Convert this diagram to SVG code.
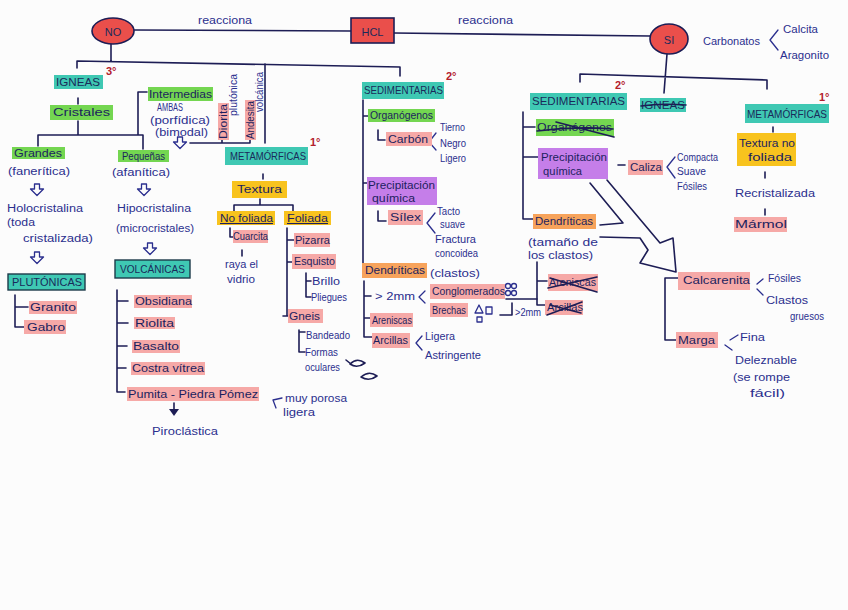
<svg xmlns="http://www.w3.org/2000/svg" width="848" height="610" viewBox="0 0 848 610">
<style>
text{font-family:"Liberation Sans",Arial,sans-serif;}
.t{font-size:10px;fill:#2b2f8e;}
.b{font-size:10.5px;fill:#1c1f5e;}
.h{font-size:11px;fill:#1a2a5a;}
.n{font-size:11px;fill:#b3202c;font-weight:bold;}
.ln{stroke:#1d1d55;stroke-width:1.6;fill:none;stroke-linecap:round;stroke-linejoin:round;}
.ink{stroke:#2b2f8e;stroke-width:1.3;fill:none;stroke-linecap:round;stroke-linejoin:round;}
.teal{fill:#3fc8b3;}
.green{fill:#74d651;}
.pink{fill:#f6a9a7;}
.orange{fill:#f7a35b;}
.purple{fill:#c57ee9;}
.yellow{fill:#f8c31e;}
.red{fill:#ea4f4b;stroke:#1d1d55;stroke-width:1.6;}
.bord{stroke:#1d3b4a;stroke-width:1.4;}
.u{text-decoration:underline;}
</style>
<defs>
<path id="hdown" d="M-2.5,0 v5 h-4 l6.5,6.5 l6.5,-6.5 h-4 v-5 z" class="ink"/>
</defs>
<rect width="848" height="610" fill="#fcfcfc"/>

<g id="connectors">
<line class="ln" x1="134" y1="30" x2="351" y2="31"/>
<line class="ln" x1="394" y1="33" x2="650" y2="36"/>
<path class="ln" d="M111,44 V61 M77,68 V61 L400,67 V76"/>
<path class="ln" d="M265,64 V143"/>
<path class="ln" d="M78,98 V104 M78,121 V135 M38,146 V135 H143 V149 M147,92 H138 V135"/>
<path class="ln" d="M190,143 H250 M222,143 V139 M250,143 V139"/>
<path class="ln" d="M15,295 V327 H24 M15,307 H28"/>
<path class="ln" d="M117,290 V392 H125 M117,301 H128 M117,323 H128 M117,346 H127 M117,368 H126"/>
<path class="ln" d="M174,403 V412"/>
<path d="M169,409 L174,416 L179,409 Z" fill="#1d1d55"/>
<path class="ink" d="M282,398 L273,400 L276,408"/>
<path class="ln" d="M263,174 V179 M260,199 V205 M234,212 V205 H293 V212"/>
<path class="ln" d="M230,228 V237 H233 M242,250 V256"/>
<path class="ln" d="M287,228 V316 H290 M283,316 H287 M287,240 H294 M287,262 H292"/>
<path class="ln" d="M306,273 V297 H311 M306,281 H311"/>
<path class="ln" d="M299,330 V352 H305 M299,332 H305"/>
<path class="ln" d="M363,100 V271 H366 M363,116 H369 M363,183 H367"/>
<path class="ln" d="M378,130 V140 H385 M378,211 V221 H386"/>
<path class="ink" d="M436,133 L429,142 L436,150 M435,213 L427,223 L435,233"/>
<path class="ln" d="M364,281 V337 H372 M364,296 H371 M364,318 H370"/>
<path class="ink" d="M425,291 L419,297 L425,303 M422,336 L416,343 L422,350"/>
<path class="ln" d="M506,299 H537 M500,315 H512 V303"/>
<path class="ln" d="M667,54 L664,93 M580,82 V74 L767,80 V89"/>
<path class="ink" d="M778,30 L770,40 L778,50"/>
<path class="ln" d="M773,127 V132 M765,172 V178 M765,209 V215"/>
<path class="ln" d="M523,112 V219 H533 M523,127 H535 M523,157 H538"/>
<path class="ln" d="M618,165 H625"/>
<path class="ink" d="M675,157 L667,167 L675,178"/>
<path class="ln" d="M537,262 V305 H546 M537,281 H547"/>
<path class="ln" d="M590,183 L623,223 L600,225"/>
<path class="ln" d="M607,180 L660,243 L673,238 L676,272 L640,263 L648,250 L640,238 L600,237"/>
<path class="ln" d="M678,278 H665 V340 H676"/>
<path class="ink" d="M763,279 L757,284 M757,289 L763,295 M730,340 L738,335 M725,345 L732,350"/>
</g>

<g id="node-no">
<ellipse class="red" cx="113" cy="31" rx="21" ry="13"/>
<text class="h" x="113" y="35.5" text-anchor="middle" font-size="12">NO</text>
</g>
<g id="label-reacciona-1"><text class="t" x="198" y="24" textLength="54" lengthAdjust="spacingAndGlyphs">reacciona</text></g>
<g id="node-hcl">
<rect class="red" x="351" y="18" width="43" height="25"/>
<text class="h" x="372.5" y="36" text-anchor="middle" font-size="15">HCL</text>
</g>
<g id="label-reacciona-2"><text class="t" x="458" y="24" textLength="55" lengthAdjust="spacingAndGlyphs">reacciona</text></g>
<g id="node-si">
<ellipse class="red" cx="669" cy="39" rx="19" ry="15"/>
<text class="h" x="669" y="44" text-anchor="middle" font-size="13">SI</text>
</g>
<g id="node-carbonatos">
<text class="t" x="703" y="45" textLength="57" lengthAdjust="spacingAndGlyphs">Carbonatos</text>
<text class="t" x="783" y="33" textLength="35" lengthAdjust="spacingAndGlyphs">Calcita</text>
<text class="t" x="780" y="59" textLength="49" lengthAdjust="spacingAndGlyphs">Aragonito</text>
</g>

<g id="node-igneas">
<rect class="teal" x="54" y="75" width="49" height="14"/>
<text class="h" x="56" y="86" textLength="44" lengthAdjust="spacingAndGlyphs">IGNEAS</text>
<text class="n" x="106" y="75">3°</text>
</g>
<g id="node-cristales">
<rect class="green" x="50" y="105" width="63" height="15"/>
<text class="b" x="53" y="116" textLength="57" lengthAdjust="spacingAndGlyphs">Cristales</text>
</g>
<g id="node-grandes">
<rect class="green" x="12" y="147" width="53" height="12"/>
<text class="b" x="14" y="157" textLength="48" lengthAdjust="spacingAndGlyphs">Grandes</text>
<text class="t" x="8" y="175" textLength="62" lengthAdjust="spacingAndGlyphs">(fanerítica)</text>
<use href="#hdown" x="37" y="184"/>
<text class="t" x="7" y="212" textLength="76" lengthAdjust="spacingAndGlyphs">Holocristalina</text>
<text class="t" x="7" y="226" textLength="28" lengthAdjust="spacingAndGlyphs">(toda</text>
<text class="t" x="23" y="242" textLength="70" lengthAdjust="spacingAndGlyphs">cristalizada)</text>
<use href="#hdown" x="37" y="252"/>
</g>
<g id="node-plutonicas">
<rect class="teal bord" x="8" y="274" width="77" height="16"/>
<text class="h" x="12" y="286" textLength="70" lengthAdjust="spacingAndGlyphs">PLUTÓNICAS</text>
</g>
<g id="node-granito"><rect class="pink" x="29" y="301" width="48" height="13"/><text class="b" x="30" y="311" textLength="46" lengthAdjust="spacingAndGlyphs">Granito</text></g>
<g id="node-gabro"><rect class="pink" x="24" y="320" width="42" height="14"/><text class="b" x="27" y="331" textLength="38" lengthAdjust="spacingAndGlyphs">Gabro</text></g>

<g id="node-pequenas">
<rect class="green" x="118" y="150" width="51" height="12"/>
<text class="b" x="122" y="160" textLength="43" lengthAdjust="spacingAndGlyphs">Pequeñas</text>
<text class="t" x="112" y="176" textLength="58" lengthAdjust="spacingAndGlyphs">(afanítica)</text>
<use href="#hdown" x="144" y="184"/>
<text class="t" x="117" y="212" textLength="74" lengthAdjust="spacingAndGlyphs">Hipocristalina</text>
<text class="t" x="116" y="232" textLength="78" lengthAdjust="spacingAndGlyphs">(microcristales)</text>
<use href="#hdown" x="150" y="243"/>
</g>
<g id="node-volcanicas">
<rect class="teal bord" x="115" y="260" width="75" height="18"/>
<text class="h" x="120" y="273" textLength="65" lengthAdjust="spacingAndGlyphs">VOLCÁNICAS</text>
</g>
<g id="node-obsidiana"><rect class="pink" x="134" y="295" width="58" height="13"/><text class="b" x="135" y="305" textLength="57" lengthAdjust="spacingAndGlyphs">Obsidiana</text></g>
<g id="node-riolita"><rect class="pink" x="134" y="317" width="41" height="12"/><text class="b" x="135" y="327" textLength="39" lengthAdjust="spacingAndGlyphs">Riolita</text></g>
<g id="node-basalto"><rect class="pink" x="132" y="340" width="48" height="13"/><text class="b" x="133" y="350" textLength="46" lengthAdjust="spacingAndGlyphs">Basalto</text></g>
<g id="node-costra"><rect class="pink" x="131" y="362" width="74" height="13"/><text class="b" x="132" y="372" textLength="72" lengthAdjust="spacingAndGlyphs">Costra vítrea</text></g>
<g id="node-pumita">
<rect class="pink" x="127" y="387" width="132" height="14"/>
<text class="b" x="128" y="398" textLength="130" lengthAdjust="spacingAndGlyphs">Pumita - Piedra Pómez</text>
<text class="t" x="285" y="402" textLength="62" lengthAdjust="spacingAndGlyphs">muy porosa</text>
<text class="t" x="283" y="416" textLength="32" lengthAdjust="spacingAndGlyphs">ligera</text>
</g>
<g id="node-piroclastica"><text class="t" x="152" y="435" textLength="66" lengthAdjust="spacingAndGlyphs">Piroclástica</text></g>

<g id="node-intermedias">
<rect class="green" x="148" y="87" width="65" height="14"/>
<text class="b" x="149" y="98" textLength="63" lengthAdjust="spacingAndGlyphs">Intermedias</text>
<text class="t" x="157" y="111" textLength="26" lengthAdjust="spacingAndGlyphs">AMBAS</text>
<text class="t" x="150" y="124" textLength="60" lengthAdjust="spacingAndGlyphs">(porfídica)</text>
<text class="t" x="155" y="136" textLength="53" lengthAdjust="spacingAndGlyphs">(bimodal)</text>
<use href="#hdown" x="180" y="137"/>
</g>
<g id="node-diorita">
<rect class="pink" x="218" y="103" width="11" height="37"/>
<text class="b" x="223.5" y="125" text-anchor="middle" transform="rotate(-90 223.5 121.5)" textLength="35" lengthAdjust="spacingAndGlyphs">Diorita</text>
<text class="t" x="233" y="98.5" text-anchor="middle" transform="rotate(-90 233 95)" textLength="42" lengthAdjust="spacingAndGlyphs">plutónica</text>
</g>
<g id="node-andesita">
<rect class="pink" x="245" y="100" width="11" height="40"/>
<text class="b" x="250.5" y="123.5" text-anchor="middle" transform="rotate(-90 250.5 120)" textLength="38" lengthAdjust="spacingAndGlyphs">Andesita</text>
<text class="t" x="259" y="95.5" text-anchor="middle" transform="rotate(-90 259 92)" textLength="40" lengthAdjust="spacingAndGlyphs">volcánica</text>
</g>

<g id="node-metamorficas-l">
<rect class="teal" x="225" y="147" width="83" height="18"/>
<text class="h" x="230" y="160" textLength="76" lengthAdjust="spacingAndGlyphs">METAMÓRFICAS</text>
<text class="n" x="310" y="146">1°</text>
</g>
<g id="node-textura"><rect class="yellow" x="232" y="181" width="55" height="17"/><text class="b" x="237" y="193" textLength="45" lengthAdjust="spacingAndGlyphs">Textura</text></g>
<g id="node-nofoliada"><rect class="yellow" x="217" y="211" width="58" height="14"/><text class="b u" x="220" y="222" textLength="53" lengthAdjust="spacingAndGlyphs">No foliada</text></g>
<g id="node-foliada"><rect class="yellow" x="284" y="211" width="47" height="14"/><text class="b u" x="287" y="222" textLength="41" lengthAdjust="spacingAndGlyphs">Foliada</text></g>
<g id="node-cuarcita">
<rect class="pink" x="233" y="230" width="35" height="13"/>
<text class="b" x="233" y="240" textLength="35" lengthAdjust="spacingAndGlyphs">Cuarcita</text>
<text class="t" x="225" y="268" textLength="33" lengthAdjust="spacingAndGlyphs">raya el</text>
<text class="t" x="227" y="283" textLength="28" lengthAdjust="spacingAndGlyphs">vidrio</text>
</g>
<g id="node-pizarra"><rect class="pink" x="294" y="233" width="36" height="14"/><text class="b" x="295" y="244" textLength="35" lengthAdjust="spacingAndGlyphs">Pizarra</text></g>
<g id="node-esquisto">
<rect class="pink" x="292" y="254" width="44" height="15"/>
<text class="b" x="294" y="265" textLength="41" lengthAdjust="spacingAndGlyphs">Esquisto</text>
<text class="t" x="312" y="285" textLength="28" lengthAdjust="spacingAndGlyphs">Brillo</text>
<text class="t" x="311" y="301" textLength="36" lengthAdjust="spacingAndGlyphs">Pliegues</text>
</g>
<g id="node-gneis">
<rect class="pink" x="288" y="309" width="35" height="14"/>
<text class="b" x="289" y="320" textLength="31" lengthAdjust="spacingAndGlyphs">Gneis</text>
<text class="t" x="306" y="339" textLength="44" lengthAdjust="spacingAndGlyphs">Bandeado</text>
<text class="t" x="305" y="356" textLength="33" lengthAdjust="spacingAndGlyphs">Formas</text>
<text class="t" x="305" y="371" textLength="35" lengthAdjust="spacingAndGlyphs">oculares</text>
<path class="ln" d="M350,364 Q357,357 365,363 Q357,369 350,364 Z M346,360 L351,364 M361,377 Q369,370 377,376 Q369,382 361,377 Z"/>
</g>

<g id="node-sedimentarias-m">
<rect class="teal" x="362" y="82" width="82" height="17"/>
<text class="h" x="364" y="94" textLength="79" lengthAdjust="spacingAndGlyphs">SEDIMENTARIAS</text>
<text class="n" x="446" y="80">2°</text>
</g>
<g id="node-organogenos-m"><rect class="green" x="368" y="109" width="67" height="13"/><text class="b" x="370" y="119" textLength="63" lengthAdjust="spacingAndGlyphs">Organógenos</text></g>
<g id="node-carbon">
<rect class="pink" x="386" y="132" width="46" height="14"/>
<text class="b" x="388" y="143" textLength="40" lengthAdjust="spacingAndGlyphs">Carbón</text>
<text class="t" x="440" y="131" textLength="25" lengthAdjust="spacingAndGlyphs">Tierno</text>
<text class="t" x="440" y="147" textLength="26" lengthAdjust="spacingAndGlyphs">Negro</text>
<text class="t" x="440" y="162" textLength="26" lengthAdjust="spacingAndGlyphs">Ligero</text>
</g>
<g id="node-precip-m">
<rect class="purple" x="367" y="177" width="70" height="28"/>
<text class="b" x="368" y="189" textLength="67" lengthAdjust="spacingAndGlyphs">Precipitación</text>
<text class="b" x="372" y="202" textLength="43" lengthAdjust="spacingAndGlyphs">química</text>
</g>
<g id="node-silex">
<rect class="pink" x="388" y="210" width="35" height="15"/>
<text class="b" x="390" y="221" textLength="31" lengthAdjust="spacingAndGlyphs">Sílex</text>
<text class="t" x="437" y="215" textLength="23" lengthAdjust="spacingAndGlyphs">Tacto</text>
<text class="t" x="440" y="228" textLength="25" lengthAdjust="spacingAndGlyphs">suave</text>
<text class="t" x="435" y="243" textLength="41" lengthAdjust="spacingAndGlyphs">Fractura</text>
<text class="t" x="435" y="257" textLength="43" lengthAdjust="spacingAndGlyphs">concoidea</text>
</g>
<g id="node-dendriticas-m">
<rect class="orange" x="362" y="263" width="65" height="15"/>
<text class="b" x="365" y="274" textLength="60" lengthAdjust="spacingAndGlyphs">Dendríticas</text>
<text class="t" x="430" y="277" textLength="50" lengthAdjust="spacingAndGlyphs">(clastos)</text>
<text class="t" x="375" y="300" textLength="40" lengthAdjust="spacingAndGlyphs">&gt; 2mm</text>
</g>
<g id="node-conglomerados">
<rect class="pink" x="430" y="284" width="75" height="15"/>
<text class="b" x="432" y="295" textLength="73" lengthAdjust="spacingAndGlyphs">Conglomerados</text>
<g class="ink"><circle cx="508" cy="286" r="2.5"/><circle cx="514" cy="286" r="2.5"/><circle cx="508" cy="293" r="2.5"/><circle cx="514" cy="293" r="2.5"/></g>
</g>
<g id="node-brechas">
<rect class="pink" x="430" y="303" width="38" height="14"/>
<text class="b" x="432" y="314" textLength="34" lengthAdjust="spacingAndGlyphs">Brechas</text>
<path class="ink" d="M475,313 L479,305 L483,313 Z M486,307 H492 V314 H486 Z M477,317 H482 V322 H477 Z"/>
<text class="t" x="515" y="316" textLength="26" lengthAdjust="spacingAndGlyphs">&gt;2mm</text>
</g>
<g id="node-areniscas-m"><rect class="pink" x="370" y="313" width="43" height="14"/><text class="b" x="372" y="324" textLength="40" lengthAdjust="spacingAndGlyphs">Areniscas</text></g>
<g id="node-arcillas-m">
<rect class="pink" x="372" y="333" width="38" height="15"/>
<text class="b" x="373" y="344" textLength="35" lengthAdjust="spacingAndGlyphs">Arcillas</text>
<text class="t" x="425" y="340" textLength="30" lengthAdjust="spacingAndGlyphs">Ligera</text>
<text class="t" x="425" y="359" textLength="56" lengthAdjust="spacingAndGlyphs">Astringente</text>
</g>

<g id="node-sedimentarias-r">
<rect class="teal" x="530" y="93" width="97" height="17"/>
<text class="h" x="532" y="105" textLength="93" lengthAdjust="spacingAndGlyphs">SEDIMENTARIAS</text>
<text class="n" x="615" y="89">2°</text>
</g>
<g id="node-igneas-r">
<rect class="teal" x="640" y="98" width="46" height="14"/>
<text class="h" x="641" y="109" textLength="44" lengthAdjust="spacingAndGlyphs">IGNEAS</text>
<path class="ln" d="M641,106 Q660,103 686,105"/>
</g>
<g id="node-metamorficas-r">
<rect class="teal" x="745" y="104" width="84" height="19"/>
<text class="h" x="747" y="118" textLength="80" lengthAdjust="spacingAndGlyphs">METAMÓRFICAS</text>
<text class="n" x="819" y="101">1°</text>
</g>
<g id="node-textura-nf"><rect class="yellow" x="737" y="133" width="59" height="33"/>
<text class="b" x="739" y="147" textLength="56" lengthAdjust="spacingAndGlyphs">Textura no</text>
<text class="b" x="748" y="161" textLength="44" lengthAdjust="spacingAndGlyphs">foliada</text></g>
<g id="node-recristalizada"><text class="t" x="735" y="197" textLength="80" lengthAdjust="spacingAndGlyphs">Recristalizada</text></g>
<g id="node-marmol"><rect class="pink" x="734" y="217" width="53" height="15"/><text class="b" x="735" y="228" textLength="52" lengthAdjust="spacingAndGlyphs">Mármol</text></g>

<g id="node-organogenos-r">
<rect class="green" x="536" y="119" width="78" height="17"/>
<text class="b" x="537" y="131" textLength="75" lengthAdjust="spacingAndGlyphs">Organógenos</text>
<path class="ln" d="M537,131 Q575,126 613,129 M556,122 L614,137"/>
</g>
<g id="node-precip-r">
<rect class="purple" x="538" y="148" width="70" height="31"/>
<text class="b" x="541" y="161" textLength="66" lengthAdjust="spacingAndGlyphs">Precipitación</text>
<text class="b" x="543" y="175" textLength="39" lengthAdjust="spacingAndGlyphs">química</text>
</g>
<g id="node-caliza">
<rect class="pink" x="628" y="160" width="35" height="15"/>
<text class="b" x="630" y="171" textLength="32" lengthAdjust="spacingAndGlyphs">Caliza</text>
<text class="t" x="677" y="161" textLength="41" lengthAdjust="spacingAndGlyphs">Compacta</text>
<text class="t" x="677" y="175" textLength="29" lengthAdjust="spacingAndGlyphs">Suave</text>
<text class="t" x="677" y="190" textLength="30" lengthAdjust="spacingAndGlyphs">Fósiles</text>
</g>
<g id="node-dendriticas-r">
<rect class="orange" x="533" y="214" width="63" height="15"/>
<text class="b" x="535" y="225" textLength="58" lengthAdjust="spacingAndGlyphs">Dendríticas</text>
<text class="t" x="528" y="246" textLength="70" lengthAdjust="spacingAndGlyphs">(tamaño de</text>
<text class="t" x="528" y="259" textLength="65" lengthAdjust="spacingAndGlyphs">los clastos)</text>
</g>
<g id="node-areniscas-r">
<rect class="pink" x="548" y="274" width="50" height="17"/>
<text class="b" x="549" y="286" textLength="47" lengthAdjust="spacingAndGlyphs">Areniscas</text>
<path class="ln" d="M550,278 L597,292 M548,288 L597,277"/>
</g>
<g id="node-arcillas-r">
<rect class="pink" x="545" y="300" width="38" height="15"/>
<text class="b" x="547" y="311" textLength="36" lengthAdjust="spacingAndGlyphs">Arcillas</text>
<path class="ln" d="M547,315 L582,302 M550,305 L581,313"/>
</g>
<g id="node-calcarenita">
<rect class="pink" x="678" y="272" width="72" height="18"/>
<text class="b" x="683" y="284" textLength="67" lengthAdjust="spacingAndGlyphs">Calcarenita</text>
<text class="t" x="768" y="282" textLength="33" lengthAdjust="spacingAndGlyphs">Fósiles</text>
<text class="t" x="766" y="304" textLength="42" lengthAdjust="spacingAndGlyphs">Clastos</text>
<text class="t" x="790" y="320" textLength="34" lengthAdjust="spacingAndGlyphs">gruesos</text>
</g>
<g id="node-marga">
<rect class="pink" x="676" y="332" width="42" height="16"/>
<text class="b" x="678" y="344" textLength="37" lengthAdjust="spacingAndGlyphs">Marga</text>
<text class="t" x="740" y="341" textLength="25" lengthAdjust="spacingAndGlyphs">Fina</text>
<text class="t" x="735" y="364" textLength="62" lengthAdjust="spacingAndGlyphs">Deleznable</text>
<text class="t" x="733" y="381" textLength="57" lengthAdjust="spacingAndGlyphs">(se rompe</text>
<text class="t" x="750" y="397" textLength="35" lengthAdjust="spacingAndGlyphs">fácil)</text>
</g>
</svg>
